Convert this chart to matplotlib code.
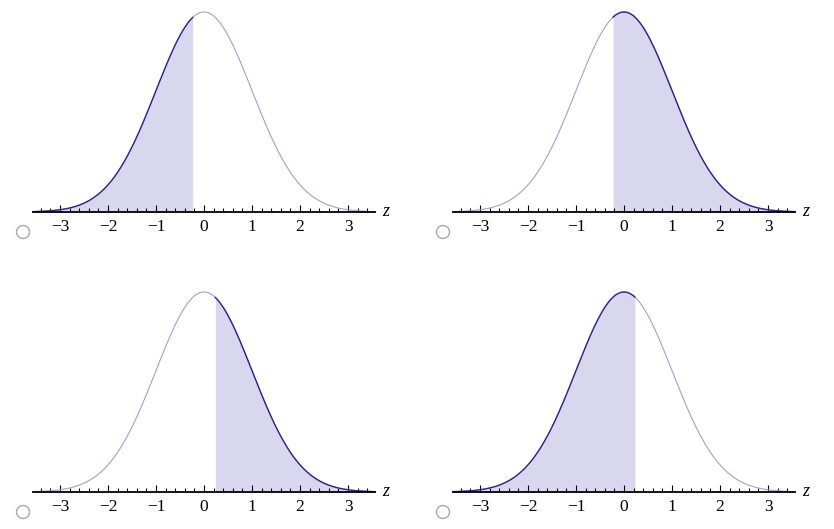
import numpy as np
import matplotlib
matplotlib.use('Agg')
import matplotlib.pyplot as plt
from matplotlib.patches import Circle
from matplotlib.ticker import MultipleLocator

plt.rcParams['font.family'] = ['Liberation Serif', 'DejaVu Serif']

# cut-off z and which side is shaded, one entry per panel
cutoffs = [-0.23, -0.23, 0.23, 0.23]
sides = ['left', 'right', 'right', 'left']
major_ticks = [-3, -2, -1, 0, 1, 2, 3]

dark = '#2e2394'
light = '#a39ddb'
fill = '#d9d7ee'

W, H = 834, 529
fig = plt.figure(figsize=(W / 100, H / 100), dpi=100)

# panel origins in pixels: (left of axis line, y of axis line from top)
origins = [(33, 212), (453, 212), (33, 492), (453, 492)]

z = np.linspace(-3.56, 3.56, 800)
pdf = np.exp(-z ** 2 / 2) / np.sqrt(2 * np.pi)

for (px, py), c, side in zip(origins, cutoffs, sides):
    ax = fig.add_axes([px / W, (H - py) / H, 342 / W, 200 / H])
    ax.set_xlim(-3.56, 3.56)
    ax.set_ylim(0, pdf.max())
    if side == 'left':
        m = z <= c
    else:
        m = z >= c
    zz = z[m]
    ax.fill_between(zz, 0, pdf[m], color=fill, lw=0)
    ax.plot(z, pdf, color=light, lw=0.8, clip_on=False)
    ax.plot(zz, pdf[m], color=dark, lw=1.0, clip_on=False)

    for s in ['top', 'left', 'right']:
        ax.spines[s].set_visible(False)
    ax.spines['bottom'].set_linewidth(1.3)
    ax.set_yticks([])
    ax.set_xticks(major_ticks)
    ax.set_xticklabels(['\u2212%d' % -t if t < 0 else str(t) for t in major_ticks])
    ax.xaxis.set_minor_locator(MultipleLocator(0.2))
    ax.tick_params(axis='x', which='major', direction='in', length=5, width=0.8,
                   labelsize=12.5, pad=5)
    ax.tick_params(axis='x', which='minor', direction='in', length=3, width=0.8)
    ax.text(1.02, 0, 'z', transform=ax.transAxes, style='italic', fontsize=13,
            va='center', ha='left')

    # radio button
    cx = (px - 10) / 100
    cy = (H - (py + 20)) / 100
    fig.add_artist(Circle((cx, cy), 0.065, transform=fig.dpi_scale_trans,
                          facecolor='white', edgecolor='#a8a8a8', lw=1))

fig.savefig('out.png', dpi=100)
